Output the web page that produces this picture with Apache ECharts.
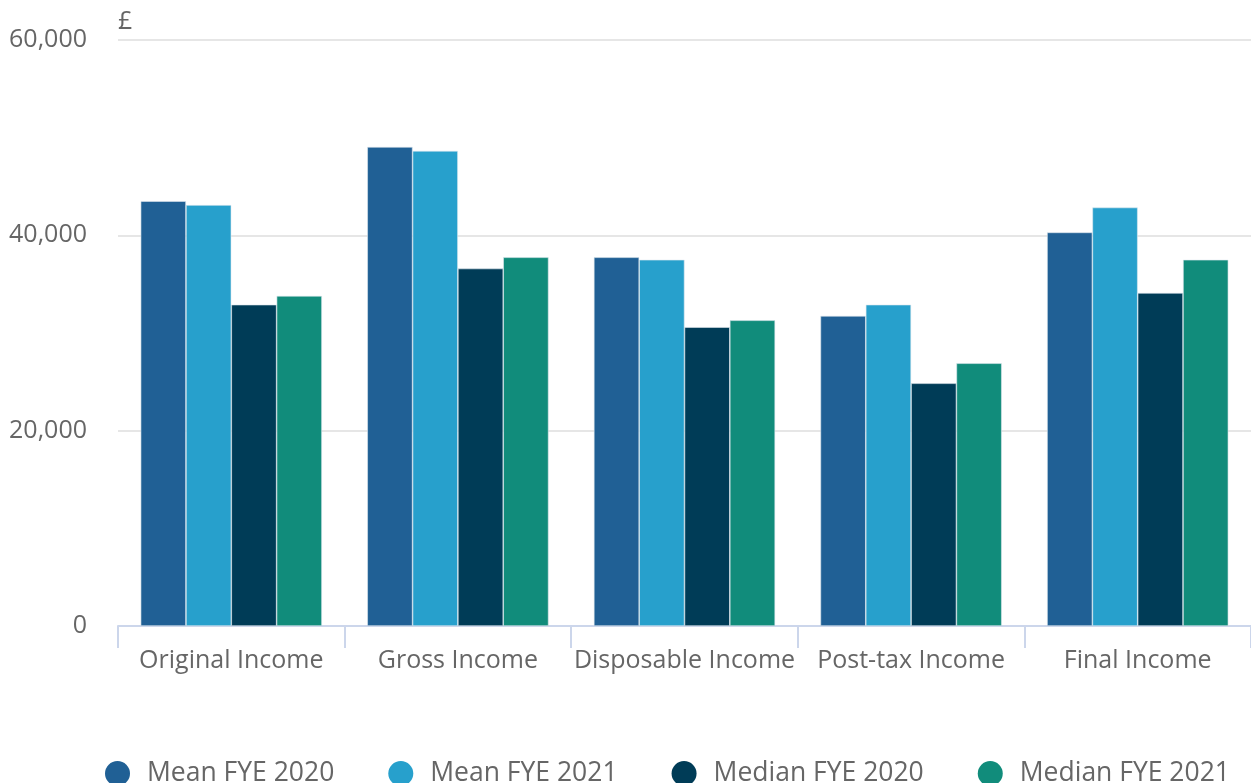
<!DOCTYPE html>
<html>
<head>
<meta charset="utf-8">
<script src="https://cdn.jsdelivr.net/npm/echarts@6/dist/echarts.min.js"></script>
<style>
  html, body { margin: 0; padding: 0; background: #fff; }
  #chart { width: 1251px; height: 783px; }
</style>
</head>
<body>
<div id="chart"></div>
<script>
const categories = ['Original Income', 'Gross Income', 'Disposable Income', 'Post-tax Income', 'Final Income']
const seriesNames = ['Mean FYE 2020', 'Mean FYE 2021', 'Median FYE 2020', 'Median FYE 2021']
const meanFye2020 = [43500, 49050, 37750, 31750, 40300]
const meanFye2021 = [43100, 48650, 37500, 32900, 42850]
const medianFye2020 = [32900, 36600, 30600, 24850, 34100]
const medianFye2021 = [33800, 37750, 31300, 26900, 37500]
const colors = ['#206095', '#27a0cc', '#003c57', '#118c7b']

const chart = echarts.init(document.getElementById('chart'))
const font = '"Open Sans", sans-serif'

const allData = [meanFye2020, meanFye2021, medianFye2020, medianFye2021]

const option = {
  animation: false,
  color: colors,
  textStyle: { fontFamily: font },
  grid: { left: 118, right: 0, top: 40, bottom: 157 },
  legend: {
    top: 755,
    left: 100,
    icon: 'circle',
    itemWidth: 25,
    itemHeight: 25,
    itemGap: 54,
    itemStyle: { borderWidth: 0 },
    textStyle: { fontSize: 26.5, color: '#666', fontFamily: font, padding: [0, 0, 0, 12] },
    data: seriesNames
  },
  xAxis: {
    type: 'category',
    data: categories,
    axisLine: { lineStyle: { color: '#ccd6eb', width: 2 } },
    axisTick: { show: true, interval: 0, length: 22, lineStyle: { color: '#ccd6eb', width: 2 } },
    axisLabel: { interval: 0, fontSize: 25, color: '#666', margin: 22, fontFamily: font }
  },
  yAxis: {
    type: 'value',
    min: 0,
    max: 60000,
    interval: 20000,
    name: '£',
    nameLocation: 'end',
    nameGap: 6,
    nameTextStyle: { fontSize: 25, color: '#666', align: 'left', fontFamily: font },
    axisLine: { show: false },
    axisTick: { show: false },
    splitLine: { lineStyle: { color: '#e6e6e6', width: 2 } },
    axisLabel: {
      fontSize: 25, color: '#666', margin: 31, fontFamily: font,
      formatter: v => v.toLocaleString('en-GB')
    }
  },
  series: seriesNames.map((name, i) => ({
    name: name,
    type: 'bar',
    data: allData[i],
    barWidth: '20%',
    barGap: '0%',
    itemStyle: { borderColor: '#dfe7ef', borderWidth: 0.6 }
  }))
}

chart.setOption(option)
</script>
</body>
</html>
